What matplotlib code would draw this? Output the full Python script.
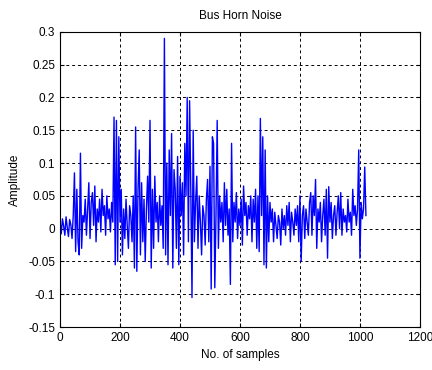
import numpy as np
import matplotlib
matplotlib.use("Agg")
from matplotlib import pyplot as plt
from matplotlib.ticker import FormatStrFormatter, MultipleLocator

plt.rcParams['font.family'] = ['Liberation Sans', 'DejaVu Sans']

# amplitude, one value every 4 samples
step = 4
amp = [
    0.012, -0.008, 0.015, 0.004, -0.01, 0.018, 0.002, -0.012, 0.014, 0.006, -0.015, 0.02, 0.085, -0.035, 0.06, -0.02,
    -0.04, 0.115, -0.03, 0.02, 0.01, 0.045, -0.01, 0.03, 0.07, -0.015, 0.04, 0.055, 0.005, 0.065, -0.02, 0.03,
    0.01, 0.045, -0.005, 0.06, 0.02, 0.035, -0.01, 0.05, 0.015, 0.03, -0.005, 0.04, 0.01, 0.17, -0.055, 0.165,
    -0.05, 0.14, 0.01, 0.06, -0.04, 0.03, -0.015, 0.045, 0.005, -0.03, 0.035, 0.02, -0.02, 0.05, -0.06, 0.155,
    -0.065, 0.06, 0.12, -0.04, 0.07, -0.02, 0.045, -0.05, 0.03, 0.08, 0.01, 0.165, -0.06, 0.06, -0.03, 0.08,
    0.01, 0.04, -0.02, 0.05, 0.005, 0.035, -0.03, 0.29, -0.04, 0.1, -0.055, 0.12, 0.02, 0.145, -0.06, 0.09,
    0.06, -0.03, 0.11, -0.055, 0.08, 0.02, 0.07, -0.04, 0.13, 0.05, 0.2, -0.02, 0.195, 0.06, -0.105, 0.15,
    -0.02, 0.04, 0.08, -0.03, 0.05, 0.01, -0.04, 0.035, 0.02, -0.025, 0.045, 0.075, -0.02, 0.095, -0.092, 0.14,
    0.13, -0.09, 0.02, 0.165, -0.03, 0.05, 0.01, 0.04, -0.02, 0.07, 0.005, 0.06, -0.01, 0.03, -0.085, 0.13,
    -0.02, 0.04, 0.01, 0.055, -0.015, 0.03, 0.005, 0.045, -0.025, 0.065, 0.02, 0.04, -0.01, 0.035, 0.015, 0.05,
    -0.02, 0.045, 0.01, 0.06, -0.03, 0.05, -0.035, 0.168, 0.02, 0.14, -0.055, 0.12, -0.06, 0.05, -0.02, 0.04,
    0.01, 0.03, -0.02, 0.025, 0.005, -0.015, 0.02, 0.01, -0.025, 0.03, 0.0, 0.02, -0.01, 0.035, 0.005, 0.04,
    -0.02, 0.025, 0.01, -0.01, 0.03, 0.005, 0.035, -0.02, 0.05, -0.05, 0.02, 0.035, -0.015, 0.03, 0.01, -0.01,
    0.04, 0.055, -0.01, 0.05, 0.02, 0.075, -0.03, 0.03, 0.01, 0.04, -0.02, 0.02, 0.045, -0.01, 0.06, -0.045,
    0.064, 0.01, 0.04, -0.015, 0.02, 0.035, -0.01, 0.025, 0.05, 0.0, 0.055, -0.01, 0.03, 0.01, 0.02, -0.005,
    0.045, 0.01, 0.025, -0.01, 0.06, 0.02, 0.035, 0.005, 0.03, 0.12, -0.045, 0.04, 0.015, 0.03, 0.094, 0.02,
]
samples = np.arange(len(amp)) * step

fig = plt.figure(figsize=(4.32, 3.70), dpi=100)
ax = fig.add_axes([0.139, 0.116, 0.833, 0.798])
ax.plot(samples, amp, color="#0000ff", lw=1.0)

ax.set_xlim(0, 1200)
ax.set_ylim(-0.15, 0.3)
ax.xaxis.set_major_locator(MultipleLocator(200))
ax.yaxis.set_major_locator(MultipleLocator(0.05))
ax.yaxis.set_major_formatter(FormatStrFormatter("%g"))
ax.grid(True, color="black", linestyle=(0, (3, 3)), lw=0.7)
ax.tick_params(direction="in", labelsize=8.5, length=3, top=True, right=True)
for s in ax.spines.values():
    s.set_linewidth(0.8)

ax.set_title("Bus Horn Noise", fontsize=8.5, pad=9)
ax.set_xlabel("No. of samples", fontsize=8.5, labelpad=4)
ax.set_ylabel("Amplitude", fontsize=8.5, labelpad=5)

fig.savefig("out.png", dpi=100)
